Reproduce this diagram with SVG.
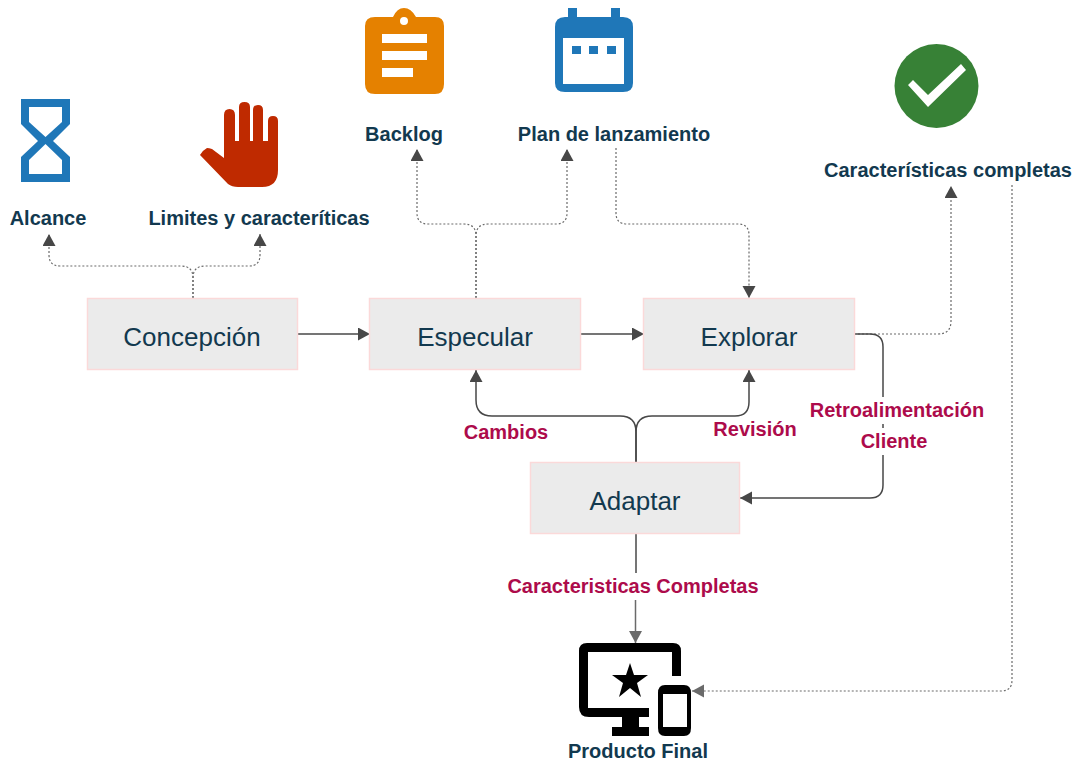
<svg xmlns="http://www.w3.org/2000/svg" width="1076" height="761" viewBox="0 0 1076 761">
<style>
text{font-family:"Liberation Sans",Arial,sans-serif;text-anchor:middle}
.box{fill:#ebebeb;stroke:#fbd9d9;stroke-width:1.5}
.bt{font-size:26px;fill:#12394f}
.lb{font-size:20px;font-weight:bold;fill:#12394f}
.rd{font-size:20px;font-weight:bold;fill:#ad0b4b}
.s{fill:none;stroke:#474747;stroke-width:1.5}
.d{fill:none;stroke:#6a6a6a;stroke-width:1.2;stroke-dasharray:2 2}
</style>
<defs>
<marker id="a" markerUnits="userSpaceOnUse" markerWidth="14" markerHeight="14" refX="12" refY="6.500" orient="auto"><path d="M0 0L12 6.500L0 13Z" fill="#474747"/></marker>
<marker id="g" markerUnits="userSpaceOnUse" markerWidth="14" markerHeight="14" refX="12" refY="6.500" orient="auto"><path d="M0 0L12 6.500L0 13Z" fill="#6a6a6a"/></marker>
</defs>
<rect width="1076" height="761" fill="#fff"/>
<g id="connectors">
<path class="d" marker-end="url(#a)" d="M193 298V278Q193 266 181 266H60Q49 266 49 255V234"/>
<path class="d" marker-end="url(#a)" d="M193 298V278Q193 266 205 266H249Q260 266 260 255V234"/>
<path class="d" marker-end="url(#a)" d="M476 298V236Q476 224 464 224H428Q417 224 417 213V149"/>
<path class="d" marker-end="url(#a)" d="M476 298V236Q476 224 488 224H556Q567 224 567 213V149"/>
<path class="d" marker-end="url(#a)" d="M616 148V213Q616 224 627 224H738Q749 224 749 235V298"/>
<path class="d" marker-end="url(#a)" d="M854 334H938Q951 334 951 321V186"/>
<path class="d" marker-end="url(#g)" d="M1012 185V680Q1012 691 1001 691H692"/>
<path class="s" marker-end="url(#a)" d="M298 334H370"/>
<path class="s" marker-end="url(#a)" d="M581 334H644"/>
<path class="s" marker-end="url(#a)" d="M636 462V432Q636 416 620 416H492Q476 416 476 400V370"/>
<path class="s" marker-end="url(#a)" d="M636 462V432Q636 416 652 416H735Q749 416 749 402V370"/>
<path class="s" d="M854 334H870Q883 334 883 347V397"/>
<path class="s" d="M883 424V428"/>
<path class="s" marker-end="url(#a)" d="M883 455V485Q883 498 870 498H740"/>
<path class="s" d="M636 534V573"/>
<path class="s" style="stroke:#6a6a6a" marker-end="url(#g)" d="M635.500 600V643"/>
</g>
<g id="concepcion"><rect class="box" x="87.500" y="298.500" width="210" height="71"/><text class="bt" x="192" y="346">Concepción</text></g>
<g id="especular"><rect class="box" x="369.500" y="298.500" width="211" height="71"/><text class="bt" x="475" y="346">Especular</text></g>
<g id="explorar"><rect class="box" x="643.500" y="298.500" width="211" height="71"/><text class="bt" x="749" y="346">Explorar</text></g>
<g id="adaptar"><rect class="box" x="530.500" y="462.500" width="209" height="71"/><text class="bt" x="635" y="510">Adaptar</text></g>
<g id="alcance"><path fill="#1f77b8" fill-rule="evenodd" d="M21 99H70V124L53 141L70 157V182H21V157L38 141L21 124ZM29 107V122L45.500 137L62 122V107ZM45.500 144L29 160V174H62V160Z"/><text class="lb" x="48" y="225">Alcance</text></g>
<g id="limites"><path fill="#bf2a00" d="M200 155Q203 150 207 148Q209 148 212 149L224 158V115Q224 109 229.500 109Q235 109 235 115V141H239V107Q239 102 244.500 102Q250 102 250 107V141H253V110Q253 105 258 105Q263 105 263 110V141H268V121Q268 116 273 116Q278 116 278 121V170Q278 187 262 187H238Q232 187 228 184Z"/><text class="lb" x="259" y="225">Limites y caracteríticas</text></g>
<g id="backlog"><path fill="#e58100" fill-rule="evenodd" d="M375 17H393Q397 8 404 8Q411 8 416 17H435Q444 17 444 26V84Q444 94 435 94H375Q365 94 365 84V26Q365 17 375 17ZM404 17A4 4 0 1 0 404 25A4 4 0 1 0 404 17Z"/><path fill="#fff" d="M382 34H427V43H382ZM382 51H427V60H382ZM382 68H413V77H382Z"/><text class="lb" x="404" y="141">Backlog</text></g>
<g id="plan"><path fill="#1f77b8" fill-rule="evenodd" d="M568 8H577V17H611V8H620V17H623Q633 17 633 27V83Q633 92 623 92H565Q555 92 555 83V27Q555 17 565 17H568ZM563 38V84H624V38Z"/><path fill="#1f77b8" d="M572 46H581V54H572ZM589 46H598V54H589ZM607 46H616V54H607Z"/><text class="lb" x="614" y="141">Plan de lanzamiento</text></g>
<g id="completas"><circle cx="936.500" cy="86" r="42" fill="#378136"/><path fill="#fff" d="M908 85L913 80L928 95L961 64L966 70L928 107Z"/><text class="lb" x="948" y="177">Características completas</text></g>
<g id="producto"><path d="M587 643H673Q681 643 681 651V676H672V652H588V708H649V717H639V727H649V736H612V727H622V717H589Q579 717 579 707V651Q579 643 587 643Z"/><path d="M630 663L634 675H648L637 683L641 697L630 688L619 697L623 683L612 675H626Z"/><path fill-rule="evenodd" d="M665 685H684Q691 685 691 693V728Q691 736 684 736H665Q658 736 658 728V693Q658 685 665 685ZM663 694V727H687V694Z"/><text class="lb" x="638" y="758">Producto Final</text></g>
<text class="rd" x="506" y="439">Cambios</text>
<text class="rd" x="755" y="436">Revisión</text>
<text class="rd" x="897" y="417">Retroalimentación</text>
<text class="rd" x="894" y="448">Cliente</text>
<text class="rd" x="633" y="593">Caracteristicas Completas</text>
</svg>
